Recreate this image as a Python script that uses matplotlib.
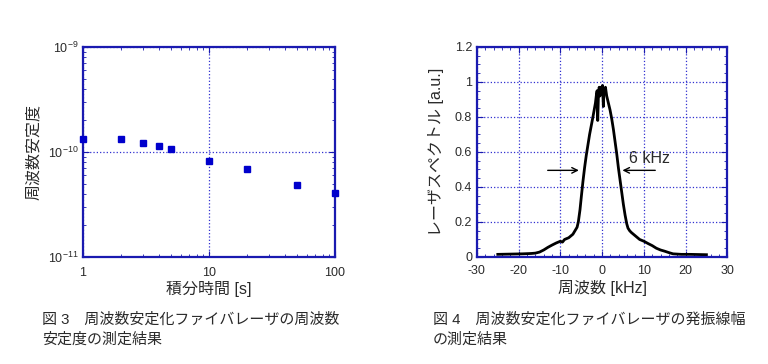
import matplotlib.pyplot as plt
from matplotlib.ticker import LogLocator, NullFormatter, MultipleLocator, AutoMinorLocator

plt.rcParams['font.family'] = ['Liberation Sans', 'Noto Sans CJK JP']
plt.rcParams['mathtext.fontset'] = 'custom'
plt.rcParams['mathtext.rm'] = 'Liberation Sans'
plt.rcParams['axes.unicode_minus'] = False

BLUE = '#1a1ab0'
GRIDC = '#3030d0'
TXT = '#2a2a2a'

# Fig. 3 : frequency stability vs integration time
tau = [1, 2, 3, 4, 5, 10, 20, 50, 100]
stability = [1.32e-10, 1.33e-10, 1.22e-10, 1.13e-10, 1.07e-10, 8.2e-11, 6.9e-11, 4.9e-11, 4.1e-11]

# Fig. 4 : laser spectrum
freq = [-25, -23, -21, -19, -17, -16, -15, -14, -13, -12, -11, -10, -9.5, -9, -8, -7,
        -6.5, -6, -5.7, -5.3, -5, -4.6, -4.2, -3.8, -3.4, -3, -2.6, -2.2, -1.9, -1.6,
        -1.4, -1.2, -1.05, -0.9, -0.7, -0.5, -0.3, -0.1, 0.1, 0.3, 0.45, 0.6, 0.8, 1.1, 1.5,
        1.9, 2.3, 2.7, 3.1, 3.5, 3.9, 4.3, 4.7, 5.1, 5.5, 5.9, 6.2, 6.6, 7, 8, 9, 10,
        11, 12, 13, 14, 15, 16, 17, 19, 21, 23, 25]
spectrum = [0.015, 0.016, 0.017, 0.018, 0.02, 0.022, 0.028, 0.04, 0.055, 0.068, 0.08, 0.09,
            0.085, 0.1, 0.11, 0.13, 0.15, 0.17, 0.2, 0.27, 0.34, 0.43, 0.51, 0.58, 0.64,
            0.7, 0.75, 0.8, 0.84, 0.88, 0.92, 0.95, 0.78, 0.91, 0.97, 0.92, 0.97, 0.93,
            0.98, 0.86, 0.96, 0.94, 0.97, 0.92, 0.88, 0.84, 0.79, 0.73, 0.66, 0.59, 0.51,
            0.44, 0.37, 0.3, 0.24, 0.19, 0.165, 0.15, 0.14, 0.12, 0.1, 0.09, 0.077, 0.065, 0.05,
            0.04, 0.033, 0.025, 0.018, 0.015, 0.015, 0.014, 0.013]

fig = plt.figure(figsize=(7.68, 3.64), dpi=100)

# ---------------------------------------------------------------------------
ax1 = fig.add_axes([0.108, 0.294, 0.328, 0.577])
ax1.loglog(tau, stability, 's', color='#0000cc', markersize=5, clip_on=False, zorder=3)
ax1.set_xlim(1, 100)
ax1.set_ylim(1e-11, 1e-9)
ax1.yaxis.set_major_locator(LogLocator(base=10, numticks=5))
ax1.xaxis.set_minor_locator(LogLocator(base=10, subs=range(2, 10), numticks=20))
ax1.yaxis.set_minor_locator(LogLocator(base=10, subs=range(2, 10), numticks=20))
ax1.xaxis.set_minor_formatter(NullFormatter())
ax1.yaxis.set_minor_formatter(NullFormatter())
ax1.set_xticks([1, 10, 100])
ax1.set_xticklabels(['1', '10', '100'])
ax1.grid(True, which='major', color=GRIDC, linestyle=':', linewidth=0.9)
ax1.set_xlabel('積分時間 [s]', fontsize=11.5, labelpad=2, color=TXT)
ax1.set_ylabel('周波数安定度', fontsize=11.5, labelpad=5, color=TXT)
ax1.tick_params(axis='x', which='major', pad=7)

# ---------------------------------------------------------------------------
ax2 = fig.add_axes([0.621, 0.294, 0.326, 0.577])
ax2.plot(freq, spectrum, color='black', linewidth=2.0)
ax2.set_xlim(-30, 30)
ax2.set_ylim(0, 1.2)
ax2.xaxis.set_major_locator(MultipleLocator(10))
ax2.set_yticks([0, 0.2, 0.4, 0.6, 0.8, 1, 1.2])
ax2.set_yticklabels(['0', '0.2', '0.4', '0.6', '0.8', '1', '1.2'])
ax2.xaxis.set_minor_locator(AutoMinorLocator(5))
ax2.yaxis.set_minor_locator(AutoMinorLocator(4))
ax2.grid(True, which='major', color=GRIDC, linestyle=':', linewidth=0.9)
ax2.set_xlabel('周波数 [kHz]', fontsize=11.5, labelpad=2, color=TXT)
ax2.set_ylabel('レーザスペクトル [a.u.]', fontsize=11.5, labelpad=8, color=TXT)
ax2.tick_params(axis='x', which='major', pad=6)
ax2.annotate('', xy=(-4.9, 0.495), xytext=(-13.7, 0.495),
             arrowprops=dict(arrowstyle='->', color='black', lw=1.0))
ax2.annotate('', xy=(4.2, 0.495), xytext=(13.4, 0.495),
             arrowprops=dict(arrowstyle='->', color='black', lw=1.0))
ax2.text(6.5, 0.565, '6 kHz', fontsize=11.5, va='center', ha='left', color=TXT)

for ax in (ax1, ax2):
    for s in ax.spines.values():
        s.set_color(BLUE)
        s.set_linewidth(1.6)
    ax.tick_params(which='both', direction='in', top=True, right=True,
                   color=BLUE, labelsize=9, labelcolor=TXT)
    ax.tick_params(which='major', length=4)
    ax.tick_params(which='minor', length=2)
    ax.set_axisbelow(True)

# captions
cap = dict(fontsize=10.8, va='center', color=TXT)
fig.text(0.055, 1 - 320 / 364, '図 3\u3000周波数安定化ファイバレーザの周波数', **cap)
fig.text(0.055, 1 - 340 / 364, '安定度の測定結果', **cap)
fig.text(0.564, 1 - 320 / 364, '図 4\u3000周波数安定化ファイバレーザの発振線幅', **cap)
fig.text(0.564, 1 - 340 / 364, 'の測定結果', **cap)

fig.savefig('out.png', dpi=100)
